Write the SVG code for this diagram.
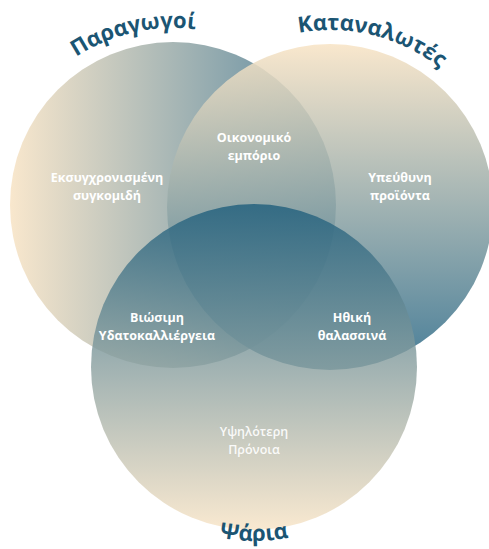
<svg xmlns="http://www.w3.org/2000/svg" width="489" height="549" viewBox="0 0 489 549">
<defs>
<linearGradient id="gA" gradientUnits="userSpaceOnUse" x1="10" y1="0" x2="337" y2="0">
<stop offset="0" stop-color="#f8e4c6"/>
<stop offset="1" stop-color="#3f7590"/>
</linearGradient>
<linearGradient id="gB" gradientUnits="userSpaceOnUse" x1="0" y1="44" x2="0" y2="370">
<stop offset="0" stop-color="#f8e4c6"/>
<stop offset="1" stop-color="#2f6c8a"/>
</linearGradient>
<linearGradient id="gC" gradientUnits="userSpaceOnUse" x1="0" y1="203" x2="0" y2="530">
<stop offset="0" stop-color="#1f5e7c"/>
<stop offset="1" stop-color="#f8e4c6"/>
</linearGradient>
<path id="arcA" d="M -4 205 A 177 177 0 0 1 350 205"/>
<path id="arcB" d="M 153 207 A 177 177 0 0 1 507 207"/>
<path id="arcC" d="M 80 367 A 174 174 0 0 0 428 367"/>
</defs>
<style>
.title{font-family:"Open Sans","Noto Sans",sans-serif;font-weight:700;font-size:22px;fill:#1b5573;}
.lbl{font-family:"Open Sans","Noto Sans",sans-serif;font-weight:700;font-size:12.5px;fill:#ffffff;text-anchor:middle;}
.soft{font-weight:600;fill-opacity:0.92;}
</style>
<g id="circles">
<g id="producers"><circle cx="173" cy="205" r="163" fill="url(#gA)" fill-opacity="0.88"/></g>
<g id="consumers"><circle cx="330" cy="207" r="163" fill="url(#gB)" fill-opacity="0.88"/></g>
<g id="fish"><circle cx="254" cy="367" r="163" fill="url(#gC)" fill-opacity="0.82"/></g>
</g>
<g id="titles">
<text class="title"><textPath href="#arcA" startOffset="42.8%" text-anchor="middle">Παραγωγοί</textPath></text>
<text class="title"><textPath href="#arcB" startOffset="57.8%" text-anchor="middle">Καταναλωτές</textPath></text>
<text class="title"><textPath href="#arcC" startOffset="50%" text-anchor="middle">Ψάρια</textPath></text>
</g>
<g id="labels">
<g id="trade"><text class="lbl" x="254" y="142">Οικονομικό<tspan x="254" dy="17.5">εμπόριο</tspan></text></g>
<g id="harvest"><text class="lbl" x="107" y="182">Εκσυγχρονισμένη<tspan x="107" dy="17.5">συγκομιδή</tspan></text></g>
<g id="products"><text class="lbl" x="400" y="182">Υπεύθυνη<tspan x="400" dy="17.5">προϊόντα</tspan></text></g>
<g id="aquaculture"><text class="lbl" x="157" y="322">Βιώσιμη<tspan x="157" dy="17.5">Υδατοκαλλιέργεια</tspan></text></g>
<g id="seafood"><text class="lbl" x="352" y="322">Ηθική<tspan x="352" dy="17.5">θαλασσινά</tspan></text></g>
<g id="welfare"><text class="lbl soft" x="254" y="436">Υψηλότερη<tspan x="254" dy="17.5">Πρόνοια</tspan></text></g>
</g>
</svg>
